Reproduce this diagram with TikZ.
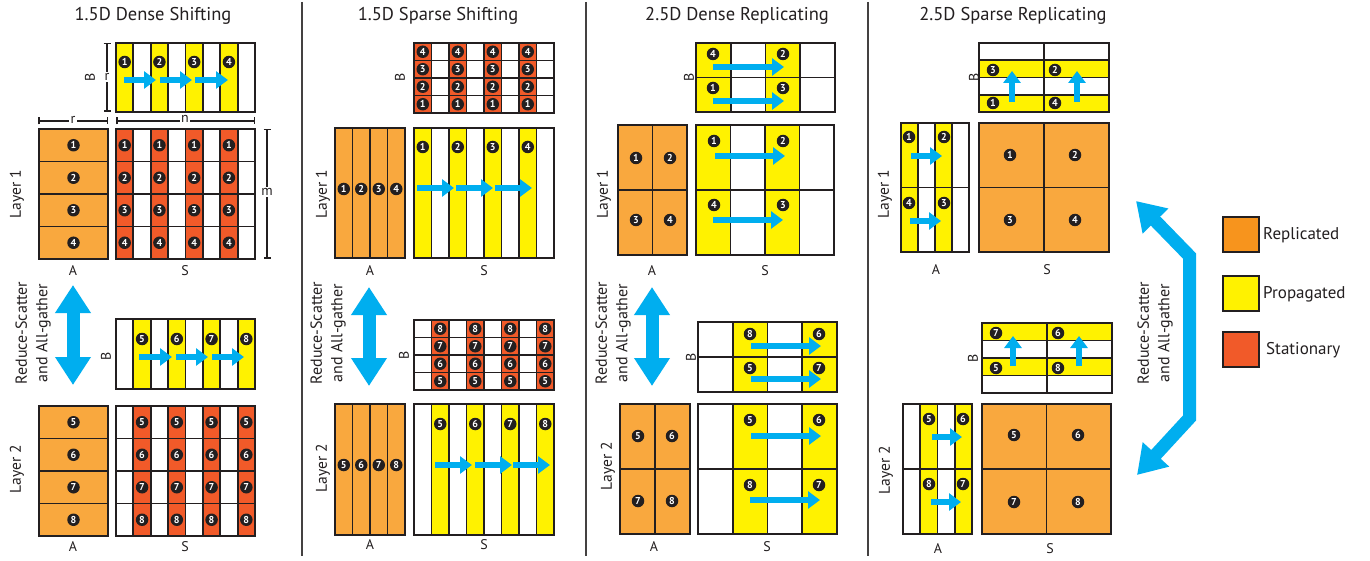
\documentclass[tikz,border=0pt]{standalone}
\usepackage{fontspec}
\setmainfont{PT Sans}
\usetikzlibrary{arrows.meta}
\definecolor{lineC}{HTML}{231F20}
\definecolor{oraC}{HTML}{F9A83E}
\definecolor{oraL}{HTML}{F7941D}
\definecolor{yelC}{HTML}{FFF200}
\definecolor{redC}{HTML}{F15A29}
\definecolor{cyaC}{HTML}{00AEEF}
\tikzset{
 gridouter/.style={draw=lineC, line width=2.2pt},
 gridinner/.style={draw=lineC, line width=1.8pt},
 numc/.style={circle, fill=lineC, text=white, inner sep=0pt, minimum size=12.5pt, font=\fontsize{10}{10}\selectfont\bfseries},
 lbl/.style={font=\fontsize{14}{14}\selectfont, text=lineC, inner sep=0pt},
 layerlbl/.style={font=\fontsize{15.5}{15.5}\selectfont, rotate=90, text=lineC, inner sep=0pt},
 ttl/.style={font=\fontsize{18.5}{18.5}\selectfont, text=lineC, inner sep=0pt},
 rstext/.style={font=\fontsize{16}{20.5}\selectfont, rotate=90, align=center, text=lineC, inner sep=0pt},
 sarrow/.style={draw=cyaC, line width=6.5pt, -{Triangle[width=17pt,length=12pt]}},
 bigarrow/.style={draw=cyaC, line width=13pt, {Triangle[width=34pt,length=28pt]}-{Triangle[width=34pt,length=28pt]}},
 dimline/.style={draw=lineC, line width=1.5pt, {Bar[width=7pt]}-{Bar[width=7pt]}},
 dimlbl/.style={fill=white, font=\fontsize{14}{14}\selectfont, inner sep=1.5pt, text=lineC},
 sepline/.style={draw=lineC!85, line width=1.8pt},
 legbox/.style={draw=lineC, line width=2.5pt, minimum width=36pt, minimum height=35pt, inner sep=0pt},
 legtext/.style={font=\fontsize{17}{17}\selectfont, text=lineC, anchor=west, inner sep=0pt},
}
% grid: x0 y0 x1 y1 ncols nrows
\newcommand{\mgrid}[6]{%
  \pgfmathtruncatemacro\mgNc{#5-1}%
  \pgfmathtruncatemacro\mgNr{#6-1}%
  \ifnum\mgNc>0 \foreach \ci in {1,...,\mgNc}{\draw[gridinner] ({#1+(#3-#1)*\ci/#5},#2) -- ({#1+(#3-#1)*\ci/#5},#4);}\fi
  \ifnum\mgNr>0 \foreach \ri in {1,...,\mgNr}{\draw[gridinner] (#1,{#2+(#4-#2)*\ri/#6}) -- (#3,{#2+(#4-#2)*\ri/#6});}\fi
  \draw[gridouter] (#1,#2) rectangle (#3,#4);
}
% column fill: x0 y0 x1 y1 ncols colour list
\newcommand{\cfill}[7]{%
  \foreach \ci in {#7}{\fill[#6] ({#1+(#3-#1)*\ci/#5},#2) rectangle ({#1+(#3-#1)*(\ci+1)/#5},#4);}}
% row fill: x0 y0 x1 y1 nrows colour list
\newcommand{\rfill}[7]{%
  \foreach \ri in {#7}{\fill[#6] (#1,{#2+(#4-#2)*\ri/#5}) rectangle (#3,{#2+(#4-#2)*(\ri+1)/#5});}}
\begin{document}
\begin{tikzpicture}[x=1pt,y=-1pt]
\fill[white] (0,0) rectangle (1370,561);
\useasboundingbox (0,0) rectangle (1370,561);

% separators
\draw[sepline] (302,2) -- (302,556);
\draw[sepline] (586,2) -- (586,556);
\draw[sepline] (868,2) -- (868,556);

% titles
\node[ttl] (t1) at (153,16) {1.5D Dense Shifting};
\node[ttl] (t2) at (438,16) {1.5D Sparse Shifting};
\node[ttl] (t3) at (737,16) {2.5D Dense Replicating};
\node[ttl] (t4) at (1013,16) {2.5D Sparse Replicating};

%================ Panel 1 ================
% layer 1 B
\cfill{116}{43}{255}{112}{8}{yelC}{0,2,4,6}
\mgrid{116}{43}{255}{112}{8}{1}
\foreach \k/\n in {0/1,2/2,4/3,6/4}{\node[numc] (pab\n) at ({116+17.375*(\k+0.5)},62) {\n};}
\draw[sarrow] (124,80) -- (156,80);
\draw[sarrow] (160,80) -- (192,80);
\draw[sarrow] (195,80) -- (228,80);
\node[lbl, rotate=90] (paB) at (90,77) {B};
\coordinate (dr1) at (107,43); \coordinate (dr2) at (107,112);
\draw[dimline] (dr1) -- (dr2);
\node[dimlbl] (dr) at (107,77) {r};
\coordinate (dh1) at (38,121); \coordinate (dh2) at (108,121);
\draw[dimline] (dh1) -- (dh2);
\node[dimlbl] (dhr) at (73,120) {r};
\coordinate (dn1) at (116,121); \coordinate (dn2) at (255,121);
\draw[dimline] (dn1) -- (dn2);
\node[dimlbl] (dnn) at (185,119) {n};
\coordinate (dm1) at (267,129); \coordinate (dm2) at (267,259);
\draw[dimline] (dm1) -- (dm2);
\node[dimlbl] (dmm) at (267,192) {m};
% layer 1 A
\fill[oraC] (39,129) rectangle (108,259);
\mgrid{39}{129}{108}{259}{1}{4}
\foreach \k in {1,...,4}{\node[numc] (paa\k) at (73.5,{129+32.5*(\k-0.5)}) {\k};}
% layer 1 S
\cfill{116}{129}{255}{259}{8}{redC}{0,2,4,6}
\mgrid{116}{129}{255}{259}{8}{4}
\foreach \ci in {0,2,4,6}{\foreach \k in {1,...,4}{\node[numc] (pas\ci\k) at ({116+17.375*(\ci+0.5)},{129+32.5*(\k-0.5)}) {\k};}}
\node[lbl] (paA) at (73,271) {A};
\node[lbl] (paS) at (185,271) {S};
\node[layerlbl] (paL1) at (17,194) {Layer 1};
% middle
\coordinate (pu1) at (73,285); \coordinate (pu2) at (73,385);
\draw[bigarrow] (pu1) -- (pu2);
\node[rstext] (parst) at (33,333) {Reduce-Scatter\\and All-gather};
% layer 2 B
\cfill{116}{319}{255}{389}{8}{yelC}{1,3,5,7}
\mgrid{116}{319}{255}{389}{8}{1}
\foreach \k/\n in {1/5,3/6,5/7,7/8}{\node[numc] (pbb\n) at ({116+17.375*(\k+0.5)},339) {\n};}
\draw[sarrow] (139,357) -- (172,357);
\draw[sarrow] (176,357) -- (208,357);
\draw[sarrow] (212,357) -- (244,357);
\node[lbl, rotate=90] (pbB) at (106,356) {B};
% layer 2 A
\fill[oraC] (39,406) rectangle (108,536);
\mgrid{39}{406}{108}{536}{1}{4}
\foreach \k/\n in {1/5,2/6,3/7,4/8}{\node[numc] (pba\n) at (73.5,{406+32.5*(\k-0.5)}) {\n};}
% layer 2 S
\cfill{116}{406}{255}{536}{8}{redC}{1,3,5,7}
\mgrid{116}{406}{255}{536}{8}{4}
\foreach \ci in {1,3,5,7}{\foreach \k/\n in {1/5,2/6,3/7,4/8}{\node[numc] (pbs\ci\n) at ({116+17.375*(\ci+0.5)},{406+32.5*(\k-0.5)}) {\n};}}
\node[lbl] (pbA) at (73,547) {A};
\node[lbl] (pbS) at (185,547) {S};
\node[layerlbl] (pbL2) at (17,469) {Layer 2};

%================ Panel 2 ================
\cfill{414}{43}{554}{113}{8}{redC}{0,2,4,6}
\mgrid{414}{43}{554}{113}{8}{4}
\foreach \ci in {0,2,4,6}{\foreach \ri/\n in {0/4,1/3,2/2,3/1}{\node[numc] (qab\ci\n) at ({414+17.5*(\ci+0.5)},{43+17.5*(\ri+0.5)}) {\n};}}
\node[lbl, rotate=90] (qaB) at (400,77) {B};
\fill[oraC] (335,128) rectangle (405,258);
\mgrid{335}{128}{405}{258}{4}{1}
\foreach \k in {1,...,4}{\node[numc] (qaa\k) at ({335+17.5*(\k-0.5)},189) {\k};}
\cfill{414}{128}{554}{258}{8}{yelC}{0,2,4,6}
\mgrid{414}{128}{554}{258}{8}{1}
\foreach \k/\n in {0/1,2/2,4/3,6/4}{\node[numc] (qas\n) at ({414+17.5*(\k+0.5)},147) {\n};}
\draw[sarrow] (417,188) -- (454,188);
\draw[sarrow] (456,188) -- (493,188);
\draw[sarrow] (495,188) -- (532,188);
\node[lbl] (qaA) at (370,271) {A};
\node[lbl] (qaS) at (484,271) {S};
\node[layerlbl] (qaL1) at (323,194) {Layer 1};
\coordinate (qu1) at (369,287); \coordinate (qu2) at (369,386);
\draw[bigarrow] (qu1) -- (qu2);
\node[rstext] (qarst) at (328,333) {Reduce-Scatter\\and All-gather};
\cfill{414}{320}{554}{390}{8}{redC}{1,3,5,7}
\mgrid{414}{320}{554}{390}{8}{4}
\foreach \ci in {1,3,5,7}{\foreach \ri/\n in {0/8,1/7,2/6,3/5}{\node[numc] (qbb\ci\n) at ({414+17.5*(\ci+0.5)},{320+17.5*(\ri+0.5)}) {\n};}}
\node[lbl, rotate=90] (qbB) at (404,355) {B};
\fill[oraC] (335,404) rectangle (405,535);
\mgrid{335}{404}{405}{535}{4}{1}
\foreach \k/\n in {1/5,2/6,3/7,4/8}{\node[numc] (qba\n) at ({335+17.5*(\k-0.5)},465) {\n};}
\cfill{414}{404}{554}{535}{8}{yelC}{1,3,5,7}
\mgrid{414}{404}{554}{535}{8}{1}
\foreach \k/\n in {1/5,3/6,5/7,7/8}{\node[numc] (qbs\n) at ({414+17.5*(\k+0.5)},424) {\n};}
\draw[sarrow] (435,465) -- (472,465);
\draw[sarrow] (475,465) -- (512,465);
\draw[sarrow] (513,465) -- (550,465);
\node[lbl] (qbA) at (370,545) {A};
\node[lbl] (qbS) at (484,545) {S};
\node[layerlbl] (qbL2) at (323,468) {Layer 2};

%================ Panel 3 ================
\cfill{696}{43}{835}{112}{4}{yelC}{0,2}
\mgrid{696}{43}{835}{112}{4}{2}
\node[numc] (rab4) at (713,54) {4};
\node[numc] (rab2) at (783,54) {2};
\node[numc] (rab1) at (713,88) {1};
\node[numc] (rab3) at (783,88) {3};
\draw[sarrow] (713,67) -- (784,67);
\draw[sarrow] (713,101) -- (784,101);
\node[lbl, rotate=90] (raB) at (689,77) {B};
\fill[oraC] (618,125) rectangle (687,255);
\mgrid{618}{125}{687}{255}{2}{2}
\node[numc] (raa1) at (636,158) {1};
\node[numc] (raa2) at (670,158) {2};
\node[numc] (raa3) at (636,220) {3};
\node[numc] (raa4) at (670,220) {4};
\cfill{696}{125}{834}{255}{4}{yelC}{0,2}
\mgrid{696}{125}{834}{255}{4}{2}
\node[numc] (ras1) at (714,141) {1};
\node[numc] (ras2) at (783,141) {2};
\node[numc] (ras4) at (714,205) {4};
\node[numc] (ras3) at (783,205) {3};
\draw[sarrow] (715,156) -- (785,156);
\draw[sarrow] (713,220) -- (783,220);
\node[lbl] (raA) at (652,271) {A};
\node[lbl] (raS) at (765,271) {S};
\node[layerlbl] (raL1) at (604,194) {Layer 1};
\coordinate (ru1) at (652,287); \coordinate (ru2) at (652,386);
\draw[bigarrow] (ru1) -- (ru2);
\node[rstext] (rarst) at (613,333) {Reduce-Scatter\\and All-gather};
\cfill{698}{322}{837}{392}{4}{yelC}{1,3}
\mgrid{698}{322}{837}{392}{4}{2}
\node[numc] (rbb8) at (750,334) {8};
\node[numc] (rbb6) at (819,334) {6};
\node[numc] (rbb5) at (750,368) {5};
\node[numc] (rbb7) at (819,368) {7};
\draw[sarrow] (751,346) -- (821,346);
\draw[sarrow] (751,379) -- (821,379);
\node[lbl, rotate=90] (rbB) at (691,357) {B};
\fill[oraC] (620,404) rectangle (690,534);
\mgrid{620}{404}{690}{534}{2}{2}
\node[numc] (rba5) at (638,436) {5};
\node[numc] (rba6) at (672,436) {6};
\node[numc] (rba7) at (638,501) {7};
\node[numc] (rba8) at (672,501) {8};
\cfill{698}{404}{837}{534}{4}{yelC}{1,3}
\mgrid{698}{404}{837}{534}{4}{2}
\node[numc] (rbs5) at (750,420) {5};
\node[numc] (rbs6) at (819,420) {6};
\node[numc] (rbs8) at (750,485) {8};
\node[numc] (rbs7) at (819,485) {7};
\draw[sarrow] (751,436) -- (821,436);
\draw[sarrow] (750,500) -- (820,500);
\node[lbl] (rbA) at (654,547) {A};
\node[lbl] (rbS) at (767,547) {S};
\node[layerlbl] (rbL2) at (608,466) {Layer 2};

%================ Panel 4 ================
\rfill{979}{43}{1109}{112}{4}{yelC}{1,3}
\mgrid{979}{43}{1109}{112}{2}{4}
\node[numc] (sab3) at (993,70) {3};
\node[numc] (sab2) at (1055,70) {2};
\node[numc] (sab1) at (993,103) {1};
\node[numc] (sab4) at (1055,103) {4};
\draw[sarrow] (1012,102) -- (1012,71);
\draw[sarrow] (1077,102) -- (1077,71);
\node[lbl, rotate=90] (saB) at (974,77) {B};
\cfill{901}{123}{969}{252}{4}{yelC}{0,2}
\mgrid{901}{123}{969}{252}{4}{2}
\node[numc] (saa1) at (909,137) {1};
\node[numc] (saa2) at (944,137) {2};
\node[numc] (saa4) at (909,203) {4};
\node[numc] (saa3) at (944,203) {3};
\draw[sarrow] (911,156) -- (942,156);
\draw[sarrow] (910,221) -- (941,221);
\fill[oraC] (979,123) rectangle (1109,252);
\mgrid{979}{123}{1109}{252}{2}{2}
\node[numc] (sas1) at (1010,155) {1};
\node[numc] (sas2) at (1075,155) {2};
\node[numc] (sas3) at (1010,220) {3};
\node[numc] (sas4) at (1075,220) {4};
\node[lbl] (saA) at (936,270) {A};
\node[lbl] (saS) at (1047,270) {S};
\node[layerlbl] (saL1) at (885,194) {Layer 1};
\rfill{982}{323}{1112}{393}{4}{yelC}{0,2}
\mgrid{982}{323}{1112}{393}{2}{4}
\node[numc] (sbb7) at (996,333) {7};
\node[numc] (sbb6) at (1058,333) {6};
\node[numc] (sbb5) at (996,368) {5};
\node[numc] (sbb8) at (1058,368) {8};
\draw[sarrow] (1013,366) -- (1013,336);
\draw[sarrow] (1079,366) -- (1079,336);
\node[lbl, rotate=90] (sbB) at (973,358) {B};
\cfill{903}{404}{972}{534}{4}{yelC}{1,3}
\mgrid{903}{404}{972}{534}{4}{2}
\node[numc] (sba5) at (929,419) {5};
\node[numc] (sba6) at (963,419) {6};
\node[numc] (sba8) at (929,484) {8};
\node[numc] (sba7) at (963,484) {7};
\draw[sarrow] (932,437) -- (962,437);
\draw[sarrow] (931,502) -- (961,502);
\fill[oraC] (982,404) rectangle (1111,534);
\mgrid{982}{404}{1111}{534}{2}{2}
\node[numc] (sbs5) at (1014,435) {5};
\node[numc] (sbs6) at (1078,435) {6};
\node[numc] (sbs7) at (1014,502) {7};
\node[numc] (sbs8) at (1078,502) {8};
\node[lbl] (sbA) at (938,549) {A};
\node[lbl] (sbS) at (1050,549) {S};
\node[layerlbl] (sbL2) at (886,470) {Layer 2};

% right big arrow
\coordinate (ra1) at (1136,201);
\coordinate (ra2) at (1189.5,256);
\coordinate (ra3) at (1189.5,418);
\coordinate (ra4) at (1137,475);
\draw[bigarrow, line join=miter] (ra1) -- (ra2) -- (ra3) -- (ra4);
\node[rstext] (rsR) at (1155,333) {Reduce-Scatter\\and All-gather};

% legend
\node[legbox, fill=oraL] (lg1) at (1241,234.5) {};
\node[legbox, fill=yelC] (lg2) at (1241,293.5) {};
\node[legbox, fill=redC] (lg3) at (1241,349.5) {};
\node[legtext] (lt1) at (1263,235) {Replicated};
\node[legtext] (lt2) at (1263,294) {Propagated};
\node[legtext] (lt3) at (1266,350) {Stationary};
\end{tikzpicture}
\end{document}
